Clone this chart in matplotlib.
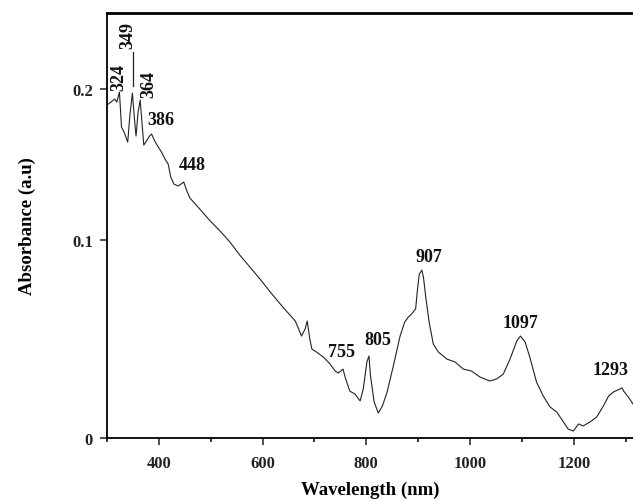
import numpy as np
import matplotlib
matplotlib.use('Agg')
import matplotlib.pyplot as plt

plt.rcParams['font.family'] = ['Liberation Serif', 'DejaVu Serif']
plt.rcParams['font.weight'] = 'bold'

# spectrum (nm, absorbance)
wavelength = [300, 315, 319, 324, 328, 333, 340, 344, 349, 353, 356, 360, 364, 368,
              371, 376, 382, 386, 392, 399, 405, 412, 418, 423, 429, 437, 448, 454,
              460, 479, 498, 518, 537, 556, 576, 595, 614, 634, 648, 663, 672, 675,
              682, 686, 691, 695, 704, 717, 730, 740, 746, 755, 759, 768, 778, 788,
              794, 801, 805, 808, 815, 823, 831, 840, 852, 865, 874, 881, 887, 895,
              898, 902, 907, 910, 915, 921, 929, 939, 955, 971, 987, 1003, 1019, 1038,
              1051, 1064, 1077, 1090, 1097, 1106, 1115, 1128, 1141, 1154, 1167, 1180,
              1189, 1199, 1209, 1218, 1231, 1244, 1257, 1267, 1276, 1293, 1296, 1305,
              1314]
absorbance = [0.1894, 0.1934, 0.1914, 0.1980, 0.1748, 0.1715, 0.1649, 0.1821, 0.1974,
              0.1801, 0.1689, 0.1848, 0.1927, 0.1755, 0.1629, 0.1656, 0.1689, 0.1702,
              0.1656, 0.1616, 0.1583, 0.1536, 0.1503, 0.1417, 0.1371, 0.1358, 0.1384,
              0.1325, 0.1278, 0.1205, 0.1130, 0.1060, 0.0990, 0.0924, 0.0862, 0.0803,
              0.0740, 0.0677, 0.0635, 0.0591, 0.0535, 0.0515, 0.0551, 0.0591, 0.0500,
              0.0449, 0.0434, 0.0409, 0.0374, 0.0338, 0.0328, 0.0348, 0.0308, 0.0237,
              0.0222, 0.0187, 0.0247, 0.0384, 0.0414, 0.0313, 0.0182, 0.0126, 0.0162,
              0.0232, 0.0364, 0.0515, 0.0586, 0.0611, 0.0626, 0.0652, 0.0737, 0.0828,
              0.0848, 0.0813, 0.0702, 0.0586, 0.0475, 0.0434, 0.0399, 0.0384, 0.0348,
              0.0338, 0.0308, 0.0288, 0.0298, 0.0323, 0.0399, 0.0490, 0.0515, 0.0485,
              0.0409, 0.0283, 0.0212, 0.0157, 0.0131, 0.0081, 0.0045, 0.0035, 0.0071,
              0.0061, 0.0081, 0.0106, 0.0162, 0.0212, 0.0232, 0.0253, 0.0237, 0.0207,
              0.0172]

# peak labels: text, x, y, rotation
peak_text = ['324', '349', '364', '386', '448', '755', '805', '907', '1097', '1293']
peak_x = [323, 340, 381, 403, 464, 753, 823, 920, 1098, 1270]
peak_y = [0.2086, 0.2364, 0.204, 0.180, 0.150, 0.0439, 0.050, 0.0919, 0.0586, 0.0348]
peak_rot = [90, 90, 90, 0, 0, 0, 0, 0, 0, 0]


# the printed y axis is not evenly spaced: 0-0.1 is taller than 0.1-0.2
def fwd(y):
    y = np.asarray(y, dtype=float)
    return np.where(y <= 0.1, y * 1980, 198 + (y - 0.1) * 1510)


def inv(p):
    p = np.asarray(p, dtype=float)
    return np.where(p <= 198, p / 1980, 0.1 + (p - 198) / 1510)


fig = plt.figure(figsize=(6.33, 5.02), dpi=100)
ax = fig.add_axes([0.169, 0.1255, 0.831, 0.8475])
ax.set_yscale('function', functions=(fwd, inv))

ax.plot(wavelength, absorbance, color='#222222', lw=0.8)

for t, x, y, r in zip(peak_text, peak_x, peak_y, peak_rot):
    ax.text(x, y, t, rotation=r, ha='center', va='center', fontsize=13,
            fontweight='bold', color='#111111')
ax.plot([349.5, 349.5], [0.202, 0.2245], color='#222222', lw=0.9)

ax.set_xlim(300, 1314)
ax.set_ylim(0, 0.2507)
ax.set_xticks([400, 600, 800, 1000, 1200])
ax.set_xticks(np.arange(300, 1301, 100), minor=True)
ax.set_yticks([0, 0.1, 0.2])
ax.set_yticklabels(['0', '0.1', '0.2'])
ax.tick_params(axis='both', which='major', direction='out', length=5, width=1.1,
               labelsize=12, pad=5, colors='#222222')
ax.tick_params(axis='x', which='minor', direction='out', length=3, width=1.1)
ax.tick_params(axis='x', which='major', pad=7)
ax.tick_params(axis='y', which='minor', left=False)

for side in ['left', 'bottom']:
    ax.spines[side].set_linewidth(1.3)
ax.spines['top'].set_linewidth(2)
ax.spines['right'].set_visible(False)

ax.set_xlabel('Wavelength (nm)', fontsize=13.5, fontweight='bold', labelpad=7)
ax.set_ylabel('Absorbance (a.u)', fontsize=13.5, fontweight='bold', labelpad=26)

fig.savefig('out.png', dpi=100)
